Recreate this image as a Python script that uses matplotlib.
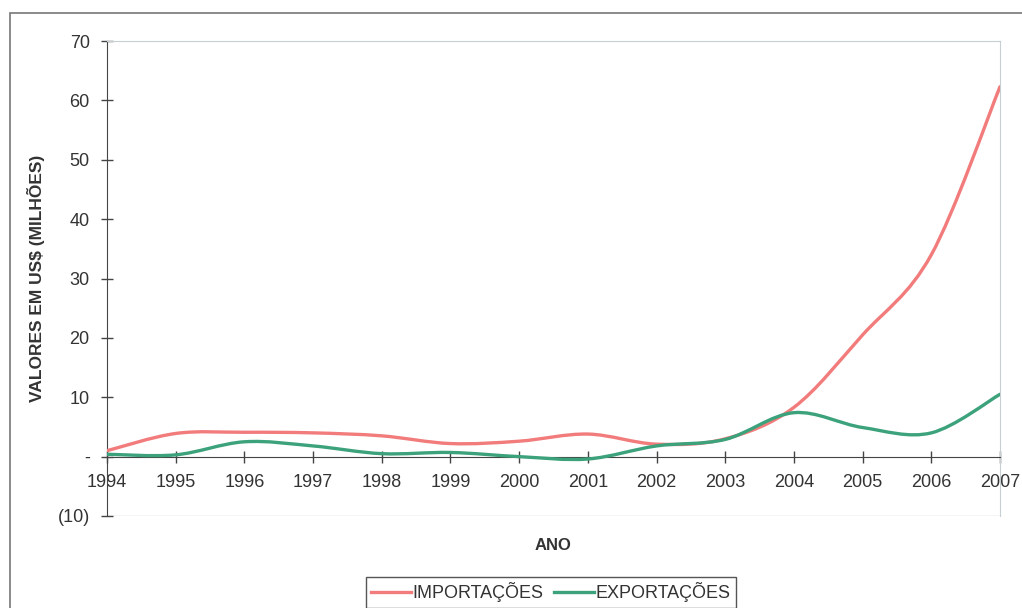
import matplotlib as mpl
mpl.use("Agg")
import matplotlib.pyplot as plt
from matplotlib.path import Path
from matplotlib.patches import PathPatch, Rectangle
from matplotlib.lines import Line2D
import numpy as np

plt.rcParams['font.family'] = ['Liberation Sans', 'DejaVu Sans']

anos = [1994, 1995, 1996, 1997, 1998, 1999, 2000, 2001, 2002, 2003, 2004, 2005, 2006, 2007]
importacoes = [1.0, 3.9, 4.1, 4.0, 3.5, 2.2, 2.6, 3.8, 2.1, 3.0, 8.3, 20.5, 34.0, 62.3]
exportacoes = [0.4, 0.3, 2.5, 1.8, 0.5, 0.7, 0.0, -0.4, 1.8, 2.9, 7.4, 4.9, 4.0, 10.5]
yticks = [-10, 0, 10, 20, 30, 40, 50, 60, 70]
ylabels = ["(10)", "-", "10", "20", "30", "40", "50", "60", "70"]

cor_imp = "#f27b7b"
cor_exp = "#3ba27c"


def curva(x, y):
    # smoothed line as cubic bezier segments (catmull-rom style, like excel)
    x = np.asarray(x, float)
    y = np.asarray(y, float)
    n = len(x)
    verts = [(x[0], y[0])]
    codes = [Path.MOVETO]
    for i in range(n - 1):
        i0 = max(i - 1, 0)
        i3 = min(i + 2, n - 1)
        c1 = (x[i] + (x[i + 1] - x[i0]) / 6, y[i] + (y[i + 1] - y[i0]) / 6)
        c2 = (x[i + 1] - (x[i3] - x[i]) / 6, y[i + 1] - (y[i3] - y[i]) / 6)
        verts += [c1, c2, (x[i + 1], y[i + 1])]
        codes += [Path.CURVE4] * 3
    return Path(verts, codes)


fig = plt.figure(figsize=(10.22, 6.08), dpi=100)
ax = fig.add_axes([107 / 1022, 1 - 516 / 608, 893 / 1022, 475 / 608])

# outer chart frame (runs off the right and bottom)
fig.patches.append(Rectangle((10 / 1022, -0.1), 1.2, 1 - 13 / 608 + 0.1, transform=fig.transFigure,
                             fill=False, edgecolor="#777777", linewidth=1.2))

ax.add_patch(PathPatch(curva(anos, importacoes), fill=False, edgecolor=cor_imp, linewidth=2.4,
                       capstyle="round", zorder=3))
ax.add_patch(PathPatch(curva(anos, exportacoes), fill=False, edgecolor=cor_exp, linewidth=2.4,
                       capstyle="round", zorder=4))

ax.set_xlim(1994, 2007)
ax.set_ylim(-10, 70)

ax.spines['bottom'].set_position(('data', 0))
ax.spines['bottom'].set_color("#444444")
ax.spines['left'].set_color("#444444")
ax.spines['top'].set_color("#c8cfd2")
ax.spines['right'].set_color("#c8cfd2")
ax.axhline(-10, color="#c8cfd2", linewidth=1.0, zorder=1)

ax.set_xticks(anos)
ax.set_xticklabels([str(a) for a in anos])
ax.set_yticks(yticks)
ax.set_yticklabels(ylabels)
ax.tick_params(axis="both", direction="inout", length=9, width=1, color="#444444",
               labelsize=13, labelcolor="#333333")
ax.tick_params(axis="x", pad=8)
ax.tick_params(axis="y", pad=8)

ax.set_ylabel("VALORES EM US$ (MILHÕES)", fontsize=12.5, fontweight="bold", color="#333333", labelpad=9)
fig.text(553 / 1022, 1 - 545 / 608, "ANO", ha="center", va="center", fontsize=12,
         fontweight="bold", color="#333333")

handles = [Line2D([], [], color=cor_imp, linewidth=2.4),
           Line2D([], [], color=cor_exp, linewidth=2.4)]
leg = fig.legend(handles, ["IMPORTAÇÕES", "EXPORTAÇÕES"], loc="upper center",
                 bbox_to_anchor=(551 / 1022, 1 - 568 / 608), ncol=2, fancybox=False,
                 edgecolor="#555555", fontsize=13, handlelength=2.2, handletextpad=0.1,
                 columnspacing=0.6, borderpad=0.3, framealpha=1)
leg.get_frame().set_linewidth(1.0)
for t in leg.get_texts():
    t.set_color("#333333")

fig.savefig("out.png", dpi=100)
